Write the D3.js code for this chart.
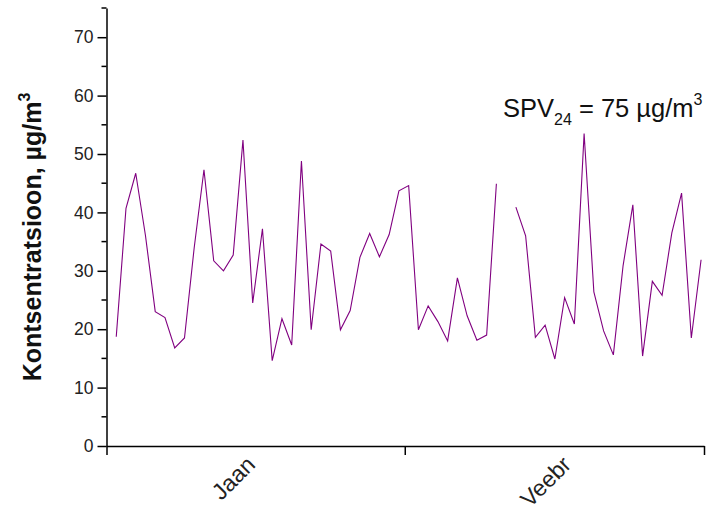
<!DOCTYPE html>
<html>
<head>
<meta charset="utf-8">
<script src="https://cdn.jsdelivr.net/npm/d3@7"></script>
<style>
  body { margin: 0; background: #fff; }
  text { font-family: "Liberation Sans", Arial, sans-serif; }
</style>
</head>
<body>
<div id="canvas"></div>
<script>
// daily concentrations, Jan + Feb (null = missing day)
const concentration = [
  18.7, 40.7, 46.7, 36.0, 23.0, 22.0, 16.8, 18.5, 34.0, 47.3,
  31.7, 30.0, 32.7, 52.4, 24.5, 37.2, 14.6, 21.8, 17.3, 48.8,
  19.9, 34.6, 33.4, 19.9, 23.2, 32.3, 36.4, 32.4, 36.2, 43.7,
  44.6, 19.9, 24.0, 21.3, 18.0, 28.8, 22.3, 18.1, 19.0, 44.9,
  null, 40.9, 36.0, 18.6, 20.7, 14.9, 25.4, 20.9, 53.5, 26.4,
  19.7, 15.6, 30.9, 41.3, 15.4, 28.2, 25.8, 36.5, 43.3, 18.5,
  31.9
];
const days = concentration.map((d, i) => i + 1);
const monthTicks = [0, 30.6, 61.3];
const monthLabels = ["Jaan", "Veebr"];
const monthLabelPos = [15.4, 47.8];
const yTicks = [0, 10, 20, 30, 40, 50, 60, 70];
const yMinorTicks = [5, 15, 25, 35, 45, 55, 65, 75];

const svg = d3.select("#canvas").append("svg")
            .attr("width", 709)
            .attr("height", 513);

const x = d3.scaleLinear().domain([0, 61.3]).range([106.5, 704]);
const y = d3.scaleLinear().domain([0, 75]).range([446, 8]);

// y axis
const yAxisGroup = svg.append("g").attr("transform", `translate(${x(0)},0)`);
yAxisGroup.call(d3.axisLeft(y).tickValues(yTicks).tickSize(9).tickPadding(4).tickSizeOuter(0));
yAxisGroup.selectAll(".minor")
    .data(yMinorTicks)
    .enter().append("line")
    .attr("class", "minor")
    .attr("x1", -5).attr("x2", 0)
    .attr("y1", d => y(d)).attr("y2", d => y(d))
    .attr("stroke", "#000").attr("stroke-width", 1.5);

// x axis
const xAxisGroup = svg.append("g").attr("transform", `translate(0,${y(0)})`);
xAxisGroup.call(d3.axisBottom(x).tickValues(monthTicks).tickSize(9).tickFormat("").tickSizeOuter(0));

svg.selectAll(".domain, .tick line").attr("stroke", "#000").attr("stroke-width", 1.5);
yAxisGroup.selectAll(".tick text")
    .attr("font-size", 17.5)
    .attr("font-family", "'Liberation Sans', Arial, sans-serif")
    .attr("fill", "#222");

// month labels
svg.selectAll(".month")
    .data(monthLabels)
    .enter().append("text")
    .attr("class", "month")
    .attr("transform", (d, i) => `translate(${x(monthLabelPos[i])},466) rotate(-45)`)
    .attr("text-anchor", "end")
    .attr("font-size", 23)
    .attr("fill", "#222")
    .text(d => d);

// concentration line
const line = d3.line()
    .defined(d => d[1] !== null)
    .x(d => x(d[0]))
    .y(d => y(d[1]));

svg.append("path")
    .datum(days.map((d, i) => [d, concentration[i]]))
    .attr("fill", "none")
    .attr("stroke", "#800080")
    .attr("stroke-width", 1.1)
    .attr("d", line);

// y title
const yTitle = svg.append("text")
    .attr("transform", "translate(41,237) rotate(-90)")
    .attr("text-anchor", "middle")
    .attr("font-size", 25)
    .attr("font-weight", "bold")
    .attr("fill", "#111");
yTitle.append("tspan").text("Kontsentratsioon, µg/m");
yTitle.append("tspan").attr("dy", -11).attr("font-size", 16).text("3");

// limit value annotation
const note = svg.append("text")
    .attr("x", 503)
    .attr("y", 117)
    .attr("font-size", 25.5)
    .attr("fill", "#111");
note.append("tspan").text("SPV");
note.append("tspan").attr("dy", 8).attr("font-size", 16).text("24");
note.append("tspan").attr("dy", -8).text(" = 75 µg/m");
note.append("tspan").attr("dy", -12).attr("font-size", 16).text("3");
</script>
</body>
</html>
